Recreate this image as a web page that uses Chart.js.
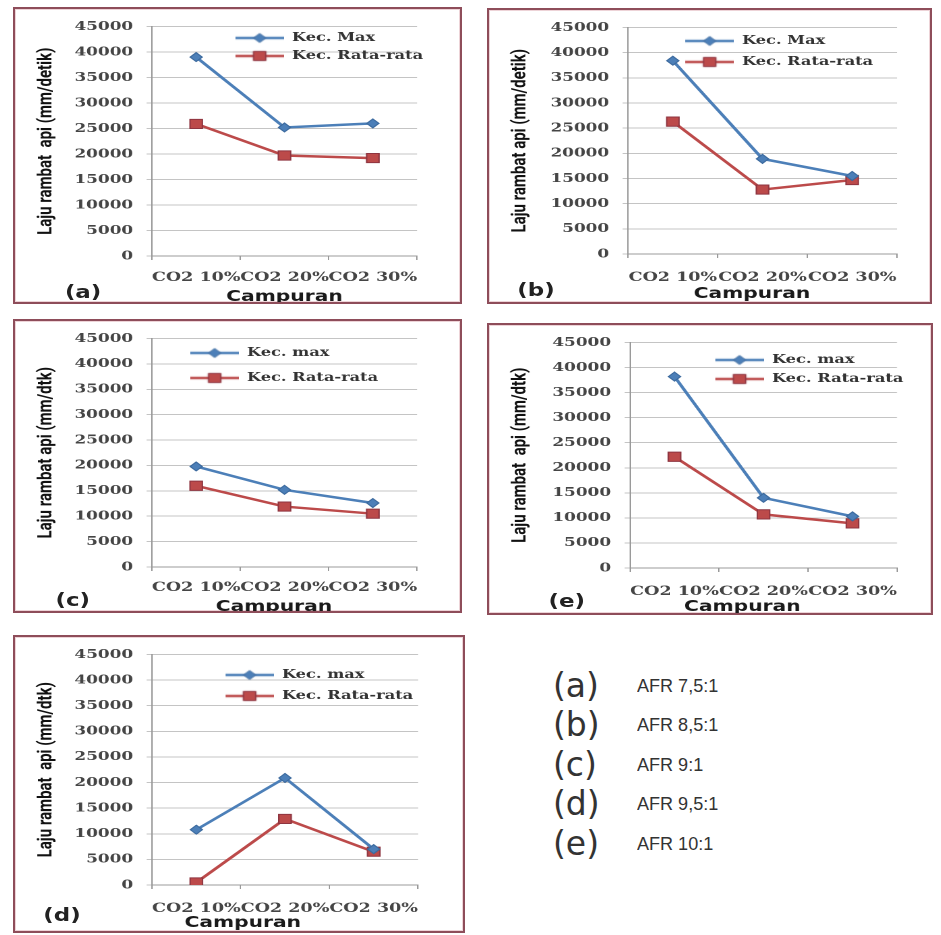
<!DOCTYPE html>
<html>
<head>
<meta charset="utf-8">
<script src="https://cdn.jsdelivr.net/npm/chart.js@4.4.0/dist/chart.umd.min.js"></script>
<style>
  body { margin: 0; background: #fff; width: 941px; height: 935px; position: relative; overflow: hidden; }
  .panel { position: absolute; box-sizing: border-box; border: 2px solid #8E4D5A; box-shadow: inset 0 0 0 1px #EDD3D7; background: #fff; }
  .wrap { position: absolute; left: 0; top: 0; transform-origin: 0 0; }
  .tag { position: absolute; font: bold 17px "DejaVu Sans"; color: #222; line-height: 18px; }
  .k { position: absolute; left: 553px; height: 40px; font: 33px "DejaVu Sans"; color: #333; line-height: 40px; white-space: nowrap; }
  .v { position: absolute; left: 637px; height: 24px; font: 19px "Liberation Sans"; color: #333; line-height: 24px;
       white-space: nowrap; transform: scaleX(0.95); transform-origin: 0 50%; }
</style>
</head>
<body>
<script>
// ── data ──
const categories = ['CO2 10%', 'CO2 20%', 'CO2 30%'];
const yTicks = [0, 5000, 10000, 15000, 20000, 25000, 30000, 35000, 40000, 45000];

const maxA = [39000, 25200, 26000];
const rataA = [25900, 19700, 19200];
const maxB = [38400, 18900, 15500];
const rataB = [26300, 12800, 14700];
const maxC = [19800, 15200, 12600];
const rataC = [16000, 11900, 10500];
const maxD = [10800, 20900, 7000];
const rataD = [500, 12900, 6500];
const maxE = [38200, 14000, 10300];
const rataE = [22200, 10700, 8900];

const afrTags = ['(a)', '(b)', '(c)', '(d)', '(e)'];
const afrText = ['AFR 7,5:1', 'AFR 8,5:1', 'AFR 9:1', 'AFR 9,5:1', 'AFR 10:1'];

// ── style ──
const SX = 1.35;
const BLUE = '#4C7FB8', BLUE_D = '#3C6A9E';
const RED = '#BC4A4A', RED_D = '#8E3540';
const GRID = '#C4C4C4', AXIS = '#9A9A9A', TXT = '#454545';
const SERIF = '"DejaVu Serif", serif';

// panel layout in screen px: box [x,y,w,h], plot [left,right,top,bottom]
const panels = [
  { box: [13, 7, 449, 297], plot: [152, 417, 25, 256], max: maxA, rata: rataA, maxName: 'Kec. Max',
    yTitle: 'Laju rambat  api (mm/detik)', tag: '(a)', tagPos: [37, 283], leg: [292, 38, 56], xtb: 5, tickDist: 21, shift: 0 },
  { box: [487, 8, 445, 296], plot: [628, 897, 23, 254], max: maxB, rata: rataB, maxName: 'Kec. Max',
    yTitle: 'Laju rambat api (mm/detik)', tag: '(b)', tagPos: [21, 280], leg: [742, 41, 62], xtb: 8, tickDist: 23, shift: 3 },
  { box: [13, 319, 449, 294], plot: [152, 417, 337, 567], max: maxC, rata: rataC, maxName: 'Kec. max',
    yTitle: 'Laju rambat api (mm/dtk)', tag: '(c)', tagPos: [30, 279], leg: [247, 353, 378], xtb: 4, tickDist: 20, shift: 3 },
  { box: [487, 323, 446, 292], plot: [630, 897, 338, 568], max: maxE, rata: rataE, maxName: 'Kec. max',
    yTitle: 'Laju rambat  api (mm/dtk)', tag: '(e)', tagPos: [44, 276], leg: [772, 360, 379], xtb: 6, tickDist: 23, shift: 6 },
  { box: [13, 635, 452, 298], plot: [152, 418, 653, 885], max: maxD, rata: rataD, maxName: 'Kec. max',
    yTitle: 'Laju rambat  api (mm/dtk)', tag: '(d)', tagPos: [21, 278], leg: [282, 675, 696], xtb: 8, tickDist: 23, shift: 12 }
];

// small line+marker icon for the legend
function makeIcon(color, border, style, radius) {
  const c = document.createElement('canvas');
  c.width = 36; c.height = 16;
  const g = c.getContext('2d');
  g.strokeStyle = color; g.lineWidth = 2.5;
  g.beginPath(); g.moveTo(0, 8); g.lineTo(36, 8); g.stroke();
  g.fillStyle = color; g.strokeStyle = border; g.lineWidth = 1;
  Chart.helpers.drawPoint(g, { pointStyle: style, radius: radius, rotation: 0, borderWidth: 1 }, 18, 8);
  return c;
}

function buildPanel(p) {
  const [bx, by, bw, bh] = p.box;
  const ix = bx + 2, iy = by + 2, iw = bw - 4, ih = bh - 4;
  const W = Math.round(iw / SX), H = ih;
  const sx = iw / W;
  const [pl, pr, pt, pb] = p.plot;

  const el = document.createElement('div');
  el.className = 'panel';
  el.style.cssText = `left:${bx}px;top:${by}px;width:${bw}px;height:${bh}px`;
  const wrap = document.createElement('div');
  wrap.className = 'wrap';
  wrap.style.width = W + 'px';
  wrap.style.height = H + 'px';
  wrap.style.transform = `scaleX(${sx})`;
  const cv = document.createElement('canvas');
  cv.width = W; cv.height = H;
  wrap.appendChild(cv);
  const tag = document.createElement('div');
  tag.className = 'tag';
  tag.textContent = p.tag;
  tag.style.left = p.tagPos[0] + 'px';
  tag.style.top = (p.tagPos[1] - 9) + 'px';
  wrap.appendChild(tag);
  el.appendChild(wrap);
  document.body.appendChild(el);

  const fs = 12;
  const legPad = (p.leg[2] - p.leg[1]) - fs;
  const legX = (p.leg[0] - ix) / sx - 36 - fs / 2 - legPad;
  const legY = p.leg[1] - iy - fs / 2 - legPad;
  const icons = [makeIcon(BLUE, BLUE_D, 'rectRot', 4.5), makeIcon(RED, RED_D, 'rect', 6.5)];

  const legendMover = {
    id: 'legendMover',
    beforeDraw(chart) {
      const lg = chart.legend;
      lg.left = legX; lg.top = legY;
      lg.right = legX + lg.width;
      lg.bottom = chart.chartArea.bottom;
    }
  };

  new Chart(cv, {
    type: 'line',
    data: {
      labels: categories,
      datasets: [
        { label: p.maxName, data: p.max, borderColor: BLUE, backgroundColor: BLUE, borderWidth: 2.5,
          pointStyle: 'rectRot', pointRadius: 4.5, pointBackgroundColor: BLUE, pointBorderColor: BLUE_D, pointBorderWidth: 1 },
        { label: 'Kec. Rata-rata', data: p.rata, borderColor: RED, backgroundColor: RED, borderWidth: 2.5,
          pointStyle: 'rect', pointRadius: 6.5, pointBackgroundColor: RED, pointBorderColor: RED_D, pointBorderWidth: 1 }
      ]
    },
    options: {
      responsive: false,
      animation: false,
      devicePixelRatio: 2,
      layout: { padding: { left: 0, top: pt - iy, right: W - (pr - ix) / sx, bottom: 0 } },
      plugins: {
        tooltip: { enabled: false },
        legend: {
          position: 'chartArea',
          align: 'start',
          labels: {
            usePointStyle: true,
            pointStyleWidth: 36,
            padding: legPad,
            color: '#333',
            font: { family: SERIF, size: fs, weight: 'bold' },
            generateLabels: (chart) => chart.data.datasets.map((ds, i) => ({
              text: ds.label, pointStyle: icons[i], fillStyle: ds.borderColor, strokeStyle: ds.borderColor,
              lineWidth: 0, hidden: false, datasetIndex: i, fontColor: '#333'
            }))
          }
        }
      },
      scales: {
        x: {
          offset: true,
          grid: { display: true, drawOnChartArea: false, offset: true, color: AXIS, tickLength: 4 },
          border: { color: AXIS },
          ticks: { color: TXT, font: { family: SERIF, size: 13, weight: 'bold' }, padding: p.tickDist - 11,
                   maxRotation: 0, minRotation: 0, autoSkip: false },
          title: { display: true, text: 'Campuran' + ' '.repeat(p.shift), color: '#1A1A1A',
                   font: { family: '"DejaVu Sans", sans-serif', size: 15, weight: 'bold', lineHeight: 1 },
                   padding: { top: 0, bottom: p.xtb - 7.5 } },
          afterFit: (s) => { s.height = iy + ih - pb; }
        },
        y: {
          min: yTicks[0], max: yTicks[yTicks.length - 1],
          afterBuildTicks: (s) => { s.ticks = yTicks.map(v => ({ value: v })); },
          grid: { color: GRID, tickLength: 4 },
          border: { color: AXIS },
          ticks: { color: TXT, font: { family: SERIF, size: 12.5, weight: 'bold' }, padding: 10,
                   callback: (v) => String(v) },
          title: { display: true, text: p.yTitle, color: '#111',
                   font: { family: '"Liberation Sans Narrow", "Arial Narrow", Roboto, sans-serif', size: 15, weight: 'bold' },
                   padding: { top: 14, bottom: 0 } },
          afterFit: (s) => { s.width = (pl - ix) / sx; }
        }
      }
    },
    plugins: [legendMover]
  });
}

panels.forEach(buildPanel);

// ── AFR key on the right ──
const rowY = [686, 725, 765, 804, 844];
afrTags.forEach((t, i) => {
  const k = document.createElement('div');
  k.className = 'k';
  k.textContent = t;
  k.style.top = (rowY[i] - 20) + 'px';
  const v = document.createElement('div');
  v.className = 'v';
  v.textContent = afrText[i];
  v.style.top = (rowY[i] - 12) + 'px';
  document.body.appendChild(k);
  document.body.appendChild(v);
});
</script>
</body>
</html>
